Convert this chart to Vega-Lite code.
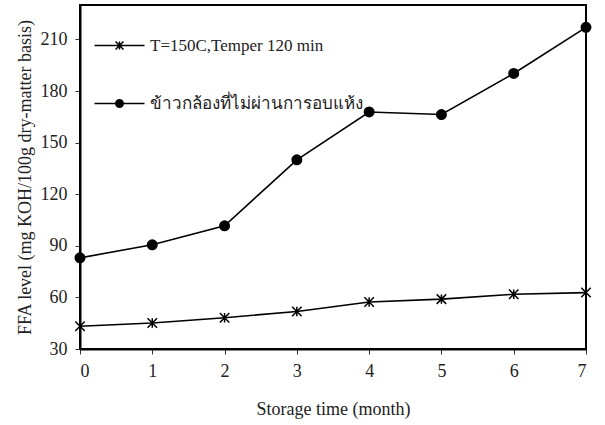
{
  "$schema": "https://vega.github.io/schema/vega-lite/v6.json",
  "autosize": "none",
  "width": 506,
  "height": 344,
  "padding": {"left": 80, "top": 5, "right": 19, "bottom": 76},
  "background": "white",
  "config": {
    "font": "Liberation Serif",
    "view": {"stroke": "black", "strokeWidth": 2},
    "axis": {
      "grid": false,
      "domainColor": "black",
      "domainWidth": 2,
      "tickColor": "#333",
      "tickSize": 5,
      "labelFont": "Liberation Serif",
      "labelFontSize": 18,
      "labelColor": "#222",
      "titleFont": "Liberation Serif",
      "titleFontSize": 18,
      "titleFontWeight": "normal",
      "titleColor": "#222"
    }
  },
  "data": {
    "values": [
      {"month": 0, "ffa": 43.2, "series": "T=150C,Temper 120 min"},
      {"month": 1, "ffa": 45.1, "series": "T=150C,Temper 120 min"},
      {"month": 2, "ffa": 48.2, "series": "T=150C,Temper 120 min"},
      {"month": 3, "ffa": 51.8, "series": "T=150C,Temper 120 min"},
      {"month": 4, "ffa": 57.3, "series": "T=150C,Temper 120 min"},
      {"month": 5, "ffa": 59.0, "series": "T=150C,Temper 120 min"},
      {"month": 6, "ffa": 61.8, "series": "T=150C,Temper 120 min"},
      {"month": 7, "ffa": 62.8, "series": "T=150C,Temper 120 min"},
      {"month": 0, "ffa": 83.0, "series": "ข้าวกล้องที่ไม่ผ่านการอบแห้ง"},
      {"month": 1, "ffa": 90.6, "series": "ข้าวกล้องที่ไม่ผ่านการอบแห้ง"},
      {"month": 2, "ffa": 101.6, "series": "ข้าวกล้องที่ไม่ผ่านการอบแห้ง"},
      {"month": 3, "ffa": 140.0, "series": "ข้าวกล้องที่ไม่ผ่านการอบแห้ง"},
      {"month": 4, "ffa": 167.8, "series": "ข้าวกล้องที่ไม่ผ่านการอบแห้ง"},
      {"month": 5, "ffa": 166.3, "series": "ข้าวกล้องที่ไม่ผ่านการอบแห้ง"},
      {"month": 6, "ffa": 190.2, "series": "ข้าวกล้องที่ไม่ผ่านการอบแห้ง"},
      {"month": 7, "ffa": 217.0, "series": "ข้าวกล้องที่ไม่ผ่านการอบแห้ง"}
    ]
  },
  "encoding": {
    "x": {
      "field": "month", "type": "quantitative",
      "scale": {"domain": [0, 7], "nice": false, "zero": false},
      "axis": {"values": [0,1,2,3,4,5,6,7], "title": "Storage time (month)", "labelPadding": 8, "titlePadding": 20, "format": "d"}
    },
    "y": {
      "field": "ffa", "type": "quantitative",
      "scale": {"domain": [30, 230], "nice": false, "zero": false},
      "axis": {"values": [30,60,90,120,150,180,210], "title": "FFA level (mg KOH/100g dry-matter basis)", "labelPadding": 8, "titlePadding": 6}
    }
  },
  "layer": [
    {
      "mark": {"type": "line", "color": "black", "strokeWidth": 1.6},
      "encoding": {"detail": {"field": "series"}}
    },
    {
      "mark": {"type": "point", "filled": true, "color": "black", "stroke": "black", "strokeWidth": 1.5, "opacity": 1},
      "encoding": {
        "shape": {
          "field": "series", "type": "nominal",
          "scale": {"domain": ["T=150C,Temper 120 min", "ข้าวกล้องที่ไม่ผ่านการอบแห้ง"], "range": ["M-1,-1L1,1M-1,1L1,-1M0,-1L0,1", "circle"]},
          "legend": null
        },
        "size": {"value": 90}
      }
    },
    {
      "mark": {"type": "point", "filled": false, "color": "black", "strokeWidth": 1.5, "opacity": 0},
      "encoding": {
        "shape": {
          "field": "series", "type": "nominal",
          "scale": {"domain": ["T=150C,Temper 120 min", "ข้าวกล้องที่ไม่ผ่านการอบแห้ง"], "range": ["M-5,0L5,0M-0.8,-0.8L0.8,0.8M-0.8,0.8L0.8,-0.8M0,-0.8L0,0.8", "M-5,0L-0.75,0M0.75,0L5,0M-0.75,0A0.75,0.75 0 1,0 0.75,0A0.75,0.75 0 1,0 -0.75,0M-0.5,0A0.5,0.5 0 1,0 0.5,0A0.5,0.5 0 1,0 -0.5,0M-0.25,0A0.25,0.25 0 1,0 0.25,0A0.25,0.25 0 1,0 -0.25,0M-0.1,0L0.1,0"]},
          "legend": {
            "title": null,
            "orient": "none",
            "legendX": 31,
            "legendY": 32,
            "padding": 0,
            "symbolSize": 100,
            "symbolOpacity": 1,
            "symbolStrokeColor": "black",
            "symbolStrokeWidth": 1.5,
            "labelOffset": 22,
            "labelFont": "Liberation Serif",
            "labelFontSize": 17,
            "labelColor": "#222",
            "labelLimit": 400,
            "rowPadding": 40
          }
        },
        "size": {"value": 90}
      }
    }
  ],
  "resolve": {"scale": {"shape": "independent"}}
}
